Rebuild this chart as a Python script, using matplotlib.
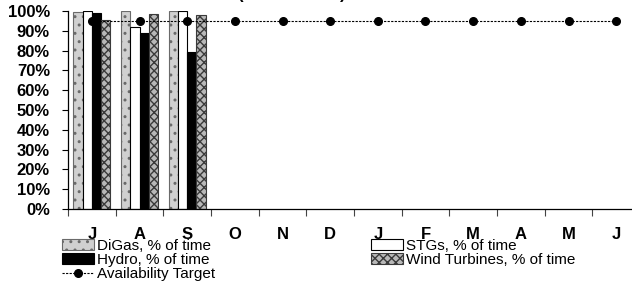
import matplotlib
matplotlib.use("Agg")
import matplotlib.pyplot as plt
import numpy as np
from matplotlib.ticker import FuncFormatter, FixedLocator

plt.rcParams['font.family'] = ['Liberation Sans', 'DejaVu Sans']

months = ["J", "A", "S", "O", "N", "D", "J", "F", "M", "A", "M", "J"]
digas = [99.6, 99.8, 99.8]
stgs = [100.0, 91.8, 99.8]
hydro = [98.8, 88.9, 79.1]
wind = [95.6, 98.6, 98.2]
target = [95] * 12
yticks = list(range(0, 101, 10))

fig = plt.figure(figsize=(6.32, 2.85), dpi=100)
ax = fig.add_axes([68/632, 1 - 209/285, 572/632, 198/285])

x = np.arange(len(months))
w = 0.195
n = len(digas)
ax.bar(x[:n] - 1.5*w, digas, w, facecolor='#d0d0d0', edgecolor='#6a6a6a', hatch='..', linewidth=0.8, label='DiGas, % of time', zorder=2)
ax.bar(x[:n] - 0.5*w, stgs, w, facecolor='white', edgecolor='black', linewidth=0.8, label='STGs, % of time', zorder=2)
ax.bar(x[:n] + 0.5*w, hydro, w, facecolor='black', edgecolor='black', linewidth=0.8, label='Hydro, % of time', zorder=2)
ax.bar(x[:n] + 1.5*w, wind, w, facecolor='#b8b8b8', edgecolor='#3a3a3a', hatch='xxxx', linewidth=0.8, label='Wind Turbines, % of time', zorder=2)
line, = ax.plot(x, target, color='black', linestyle=(0, (2, 1.2)), linewidth=0.8, marker='o', markersize=5.5, label='Availability Target', zorder=3)

ax.set_xlim(-0.5, 11.5)
ax.set_ylim(0, 100)
ax.set_yticks(yticks)
ax.yaxis.set_major_formatter(FuncFormatter(lambda v, p: f"{int(v)}%"))
ax.tick_params(axis='y', length=4, width=0.8, pad=9, labelsize=12)
for t in ax.get_yticklabels():
    t.set_fontweight('bold')

ax.xaxis.set_major_locator(FixedLocator(np.arange(-0.5, 12, 1)))
ax.xaxis.set_major_formatter(FuncFormatter(lambda v, p: ""))
ax.xaxis.set_minor_locator(FixedLocator(x))
ax.set_xticklabels(months, minor=True)
ax.tick_params(axis='x', which='major', length=5, width=0.8, color='#444444')
ax.tick_params(axis='x', which='minor', length=0, pad=13, labelsize=12)
for t in ax.get_xticklabels(minor=True):
    t.set_fontweight('bold')

for s in ['top', 'right']:
    ax.spines[s].set_visible(False)
for s in ['left', 'bottom']:
    ax.spines[s].set_linewidth(0.9)

h, l = ax.get_legend_handles_labels()
d = dict(zip(l, h))
order = ['DiGas, % of time', 'Hydro, % of time', 'Availability Target', 'STGs, % of time', 'Wind Turbines, % of time']
fig.legend([d[k] for k in order], order, ncol=2, loc='upper left',
           bbox_to_anchor=(62/632, 1 - 239/285), frameon=False, fontsize=11,
           borderpad=0, borderaxespad=0, handlelength=2.1, handletextpad=0.2,
           columnspacing=10.2, labelspacing=0.0)

fig.text(292/632, 1.004, "(Year to Date)", ha='center', va='baseline', fontsize=12, fontweight='bold')

fig.savefig('out.png', dpi=100)
